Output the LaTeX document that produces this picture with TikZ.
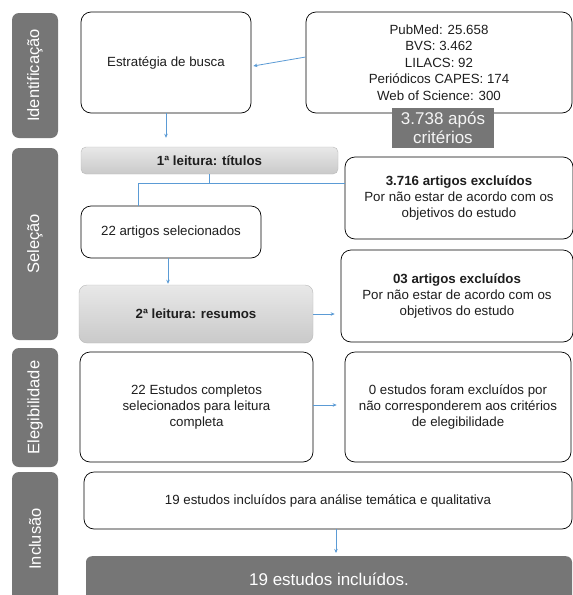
\documentclass[tikz,border=0pt]{standalone}
\usepackage{fontspec}
\setmainfont{Liberation Sans}
\usetikzlibrary{calc,arrows.meta,shadows}
\definecolor{labgray}{RGB}{118,118,118}
\definecolor{arrblue}{RGB}{91,155,213}
\definecolor{txt}{RGB}{30,30,30}
\begin{document}
\begin{tikzpicture}[x=1pt,y=-1pt,
  sidelab/.style={fill=labgray, rounded corners=7pt, text=white, rotate=90,
    font=\fontsize{16.5}{18}\selectfont, inner sep=0pt, minimum height=46pt},
  wbox/.style={draw=black, rounded corners=10pt, fill=white, align=center, text=txt,
    font=\fontsize{13.3}{16}\selectfont, inner sep=2pt, line width=0.7pt},
  gbar/.style={top color=gray!18, bottom color=gray!42, draw=gray!55, rounded corners=5pt,
    align=center, text=txt, font=\bfseries\fontsize{13.3}{16}\selectfont, inner sep=2pt},
  darkbox/.style={fill=labgray, text=white, align=center, inner sep=2pt,
    font=\fontsize{17}{19}\selectfont},
  conn/.style={draw=arrblue, line width=0.8pt},
  arr/.style={conn, -{Stealth[length=4pt,width=3.5pt]}}
]
\useasboundingbox (0,0) rectangle (573,595);
\clip (0,0) rectangle (573,595);
\fill[white] (0,0) rectangle (573,595);

% phase labels
\node[sidelab, minimum width=125pt] (idlab) at (35,75.5) {Identificação};
\node[sidelab, minimum width=192pt] (sellab) at (35,244) {Seleção};
\node[sidelab, minimum width=119pt] (elelab) at (35,407.5) {Elegibilidade};
\node[sidelab, minimum width=134pt] (inclab) at (35,539) {Inclusão};

% identification
\node[wbox, minimum width=170pt, minimum height=101pt] (estr) at (166,62.5) {Estratégia de busca};
\node[wbox, minimum width=266pt, minimum height=101pt, font=\fontsize{13.3}{16.5}\selectfont] (db) at (439,62.5)
  {PubMed: 25.658\\BVS: 3.462\\LILACS: 92\\Periódicos CAPES: 174\\Web of Science: 300};
\node[darkbox, minimum width=102pt, minimum height=40pt, font=\fontsize{17}{19}\selectfont, text=gray!8] (crit) at (443,128)
  {3.738 após\\critérios};

% selection
\node[gbar, minimum width=257pt, minimum height=27pt] (t1) at (209.5,160.5) {1ª leitura: títulos};
\node[wbox, minimum width=228pt, minimum height=82pt] (ex1) at (459,198)
  {\textbf{3.716 artigos excluídos}\\Por não estar de acordo com os\\objetivos do estudo};
\node[wbox, minimum width=180pt, minimum height=52pt] (sel22) at (171,232) {22 artigos selecionados};
\node[gbar, minimum width=234pt, minimum height=58pt, rounded corners=8pt] (t2) at (196,314) {2ª leitura: resumos};
\node[wbox, minimum width=232pt, minimum height=92pt] (ex2) at (457,296)
  {\textbf{03 artigos excluídos}\\Por não estar de acordo com os\\objetivos do estudo};

% eligibility
\node[wbox, minimum width=233pt, minimum height=110pt] (est22) at (196.5,407)
  {22 Estudos completos\\selecionados para leitura\\completa};
\node[wbox, minimum width=226pt, minimum height=110pt] (ex3) at (458,407)
  {0 estudos foram excluídos por\\não corresponderem aos critérios\\de elegibilidade};

% inclusion
\node[wbox, minimum width=488pt, minimum height=57pt] (inc) at (328,500.5)
  {19 estudos incluídos para análise temática e qualitativa};
\node[darkbox, minimum width=486pt, minimum height=54pt, rounded corners=6pt, anchor=north] (fin) at (329,556)
  {\raisebox{8pt}{19 estudos incluídos.}};

% connectors
\draw[arr] ($(db.west)+(0,-5.5)$) -- ($(estr.east)+(2,3.5)$);
\draw[arr, shorten >=9pt] (estr.south) -- (estr.south |- t1.north);
\coordinate (j) at ($(t1.south)+(0,9)$);
\coordinate (s22) at ($(sel22.north)+(-33,0)$);
\draw[conn] (t1.south) -- (j) -| (s22);
\draw[conn] (j) -- (j -| ex1.west);
\draw[arr] ($(sel22.south)+(-3,0)$) -- ($(sel22.south |- t2.north)+(-3,-1)$);
\draw[arr, shorten >=6pt] (t2.east) -- (t2.east -| ex2.west);
\draw[arr, shorten >=8pt] ($(est22.east)+(0,-2)$) -- ($(est22.east -| ex3.west)+(0,-2)$);
\draw[arr] ($(inc.south)+(8,0)$) -- ($(inc.south |- fin.north)+(8,-3)$);
\end{tikzpicture}
\end{document}
